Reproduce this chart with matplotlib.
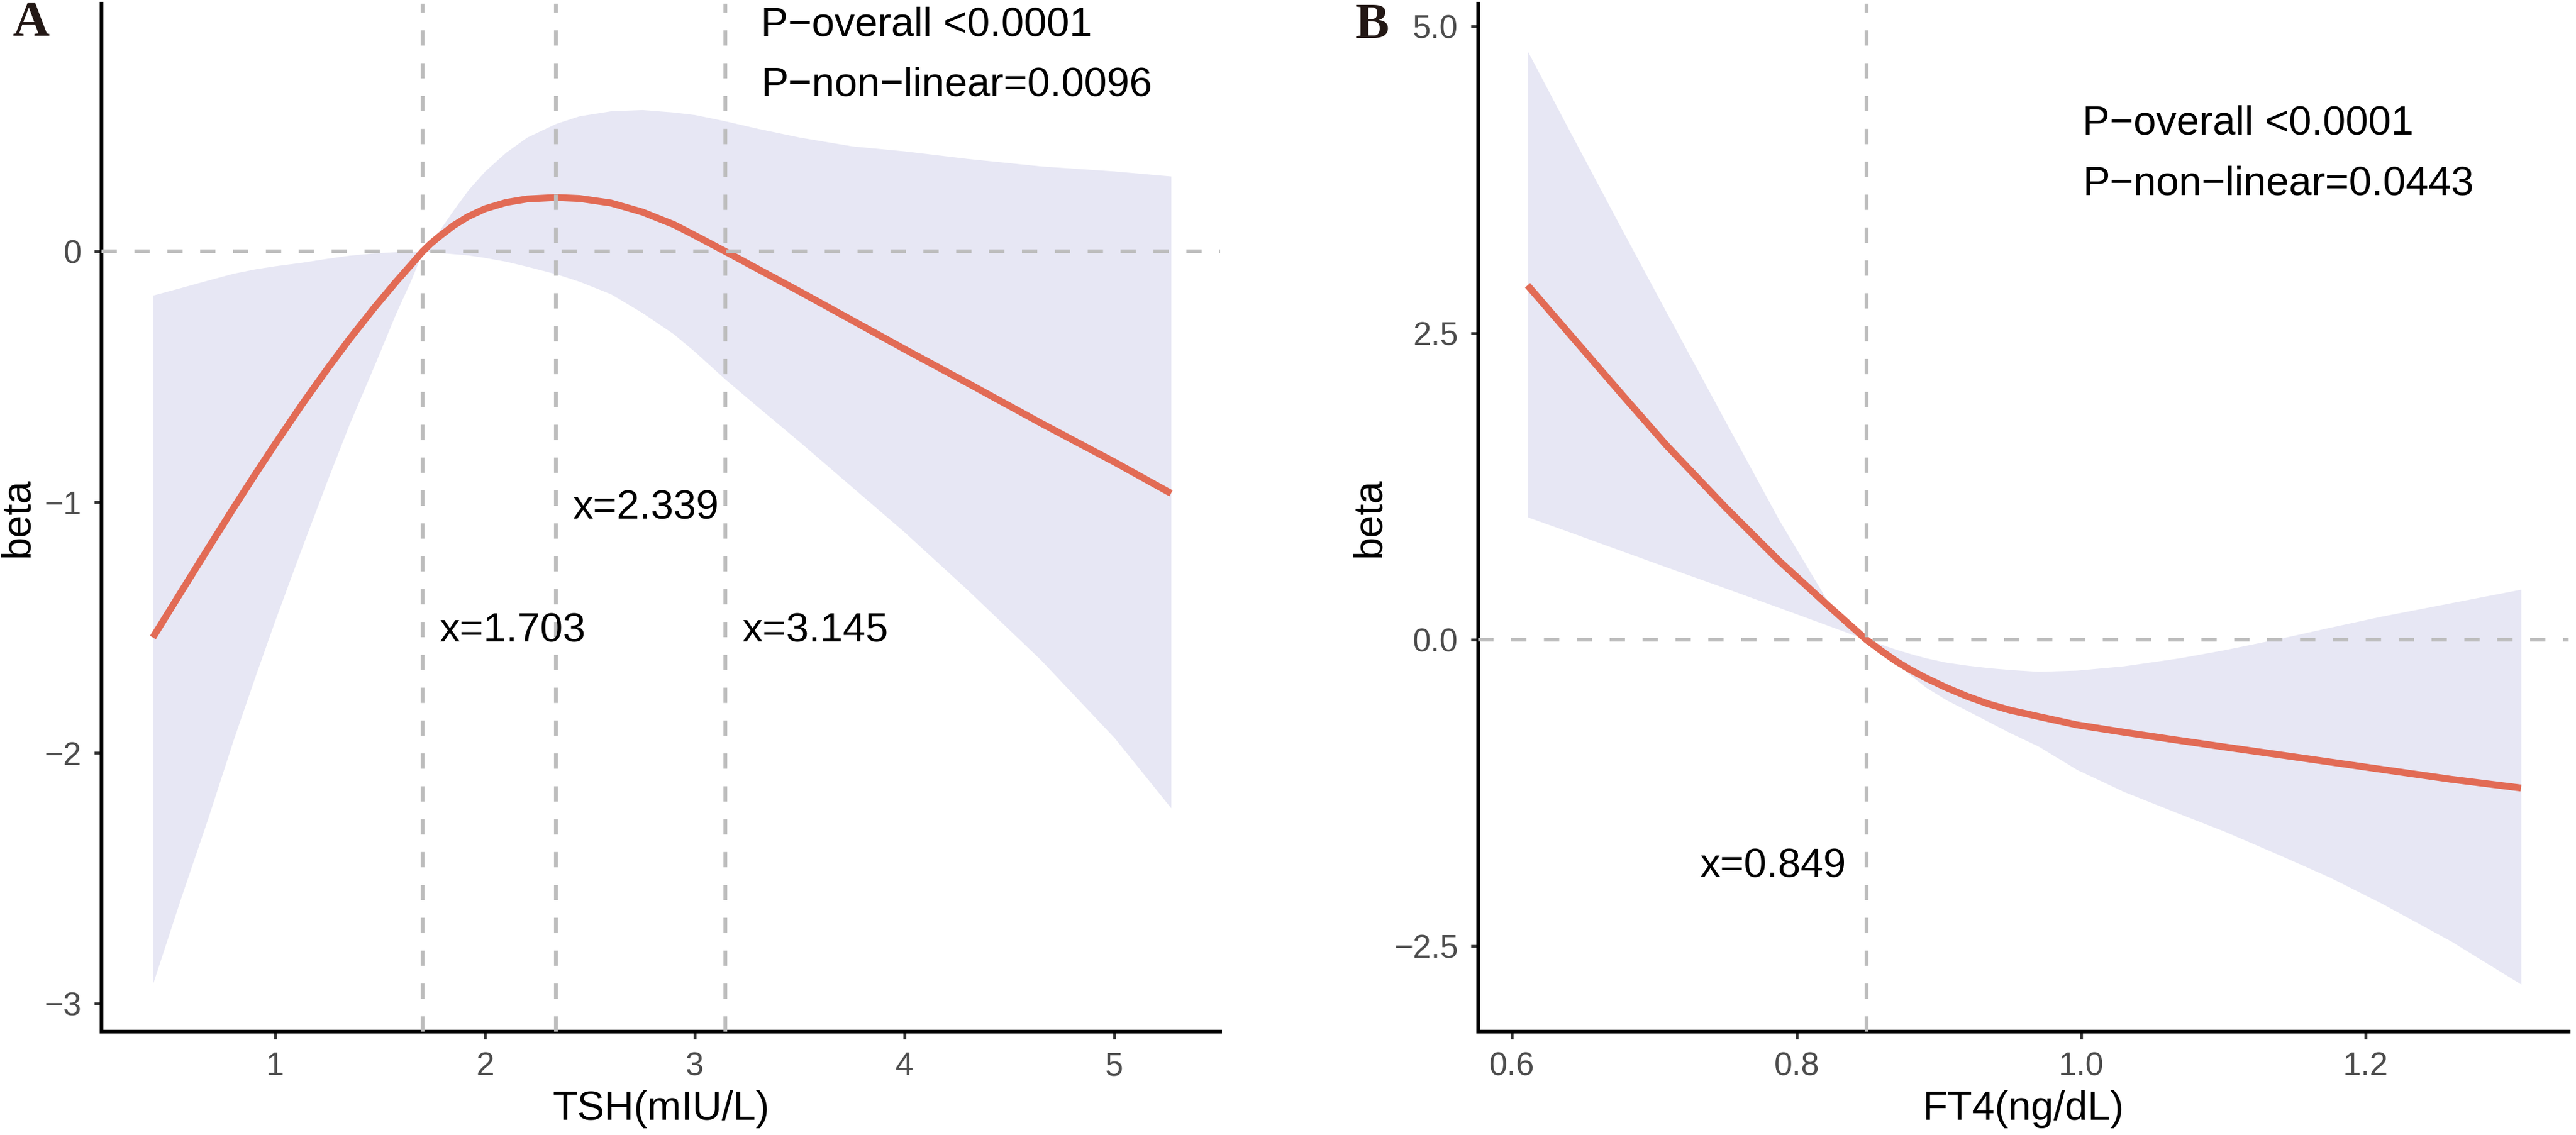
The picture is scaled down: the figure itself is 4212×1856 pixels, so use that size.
import matplotlib
matplotlib.use("Agg")
import matplotlib.pyplot as plt

# ---------------- Data: panel A (TSH) ----------------
tsh_x = [0.417, 0.55, 0.68, 0.8, 0.907, 1.0, 1.128, 1.25, 1.353, 1.47, 1.574, 1.65, 1.703,
         1.74, 1.78, 1.85, 1.92, 2.0, 2.1, 2.2, 2.339, 2.45, 2.6, 2.75, 2.9, 3.0, 3.145, 3.3,
         3.5, 3.75, 4.0, 4.3, 4.65, 5.0, 5.27]
tsh_beta = [-1.54, -1.36, -1.185, -1.025, -0.886, -0.768, -0.610, -0.467, -0.351, -0.227, -0.123, -0.051, 0.0,
            0.03, 0.058, 0.103, 0.139, 0.17, 0.195, 0.209, 0.215, 0.211, 0.193, 0.157, 0.107, 0.064, 0.0, -0.07,
            -0.16, -0.275, -0.39, -0.525, -0.685, -0.84, -0.965]
tsh_upper = [-0.175, -0.145, -0.115, -0.088, -0.07, -0.058, -0.044, -0.028, -0.016, -0.007, -0.002, 0.0, 0.0,
             0.035, 0.08, 0.165, 0.245, 0.32, 0.395, 0.455, 0.51, 0.54, 0.56, 0.565, 0.555, 0.545, 0.52, 0.49,
             0.455, 0.42, 0.40, 0.37, 0.34, 0.32, 0.30]
tsh_lower = [-2.92, -2.58, -2.26, -1.95, -1.69, -1.47, -1.18, -0.91, -0.69, -0.46, -0.25, -0.11, 0.0,
             -0.002, -0.005, -0.01, -0.015, -0.025, -0.04, -0.06, -0.09, -0.12, -0.17, -0.245, -0.33, -0.40, -0.51, -0.62,
             -0.76, -0.94, -1.12, -1.35, -1.63, -1.94, -2.22]
tsh_cuts = [1.703, 2.339, 3.145]
tsh_cut_labels = ["x=1.703", "x=2.339", "x=3.145"]
tsh_cut_label_y = [-1.556, -1.066, -1.556]
tsh_xticks = [1, 2, 3, 4, 5]
tsh_yticks = [-3, -2, -1, 0]
tsh_p_text = ["P\u2212overall <0.0001", "P\u2212non\u2212linear=0.0096"]

# ---------------- Data: panel B (FT4) ----------------
ft4_x = [0.611, 0.64, 0.678, 0.709, 0.75, 0.788, 0.821, 0.835, 0.849, 0.86, 0.87, 0.88, 0.891, 0.905,
         0.92, 0.935, 0.95, 0.97, 0.997, 1.03, 1.069, 1.10, 1.14, 1.175, 1.211, 1.26, 1.309]
ft4_beta = [2.89, 2.50, 1.99, 1.58, 1.08, 0.64, 0.29, 0.145, 0.0, -0.095, -0.176, -0.246, -0.313, -0.39,
            -0.463, -0.525, -0.575, -0.627, -0.695, -0.755, -0.822, -0.874, -0.94, -0.998, -1.058, -1.139, -1.21]
ft4_upper = [4.80, 4.16, 3.33, 2.66, 1.78, 0.97, 0.33, 0.15, 0.0, -0.04, -0.08, -0.115, -0.15, -0.185,
             -0.21, -0.23, -0.245, -0.26, -0.25, -0.215, -0.15, -0.085, 0.01, 0.10, 0.19, 0.30, 0.41]
ft4_lower = [1.00, 0.88, 0.72, 0.59, 0.42, 0.26, 0.12, 0.06, 0.0, -0.10, -0.19, -0.29, -0.39, -0.49,
             -0.58, -0.67, -0.76, -0.87, -1.06, -1.24, -1.42, -1.56, -1.76, -1.94, -2.15, -2.46, -2.81]
ft4_cuts = [0.849]
ft4_cut_labels = ["x=0.849"]
ft4_cut_label_y = [-1.94]
ft4_xticks = [0.6, 0.8, 1.0, 1.2]
ft4_yticks = [-2.5, 0.0, 2.5, 5.0]
ft4_p_text = ["P\u2212overall <0.0001", "P\u2212non\u2212linear=0.0443"]

# ---------------- Style ----------------
plt.rcParams['font.family'] = ['Liberation Sans', 'DejaVu Sans']
LINE_COLOR = "#E26B55"
BAND_COLOR = "#E7E7F4"
DASH_COLOR = "#BDBDBD"
TEXT_SIZE = 16
TICK_SIZE = 12.8
DASH = (0, (4.0, 4.6))
DASH_LW = 1.5

W, H = 4212, 1856
fig = plt.figure(figsize=(W / 300, H / 300), dpi=300)


def px_axes(left, right, top, bottom):
    return fig.add_axes([left / W, 1 - bottom / H, (right - left) / W, (bottom - top) / H])


def style(ax, xlim, ylim, xticks, yticks, xlabel, ylabel_x):
    ax.set_xlim(*xlim)
    ax.set_ylim(*ylim)
    ax.set_xticks(xticks)
    ax.set_yticks(yticks)
    for s in ["top", "right"]:
        ax.spines[s].set_visible(False)
    for s in ["left", "bottom"]:
        ax.spines[s].set_linewidth(1.45)
        ax.spines[s].set_color("black")
    ax.tick_params(axis="both", length=2.8, width=1.1, color="#333333",
                   labelsize=TICK_SIZE, labelcolor="#4D4D4D", pad=5)
    ax.set_xlabel(xlabel, fontsize=TEXT_SIZE, color="black", va="baseline")
    ax.xaxis.set_label_coords(0.5, -0.0857)
    ax.set_ylabel("beta", fontsize=TEXT_SIZE, color="black", va="center")
    ax.yaxis.set_label_coords(ylabel_x, 0.5)
    ax.set_facecolor("white")


def draw(ax, x, beta, lo, hi, cuts, cut_labels, cut_y, cut_ha, cut_dx, p_text, p_x, p_y):
    ax.fill_between(x, lo, hi, color=BAND_COLOR, linewidth=0, zorder=1)
    ax.plot(x, beta, color=LINE_COLOR, linewidth=2.7, solid_capstyle="butt",
            solid_joinstyle="round", zorder=2)
    ax.axhline(0, color=DASH_COLOR, linewidth=DASH_LW, linestyle=DASH, zorder=3)
    for c in cuts:
        ax.axvline(c, color=DASH_COLOR, linewidth=DASH_LW, linestyle=DASH, zorder=3)
    for c, lab, yy in zip(cuts, cut_labels, cut_y):
        ax.annotate(lab, xy=(c, yy), xytext=(cut_dx, 0), textcoords="offset points",
                    ha=cut_ha, va="baseline", fontsize=TEXT_SIZE, color="black", zorder=4)
    for t, yy in zip(p_text, p_y):
        ax.text(p_x, yy, t, ha="left", va="baseline", fontsize=TEXT_SIZE, color="black", zorder=4)


# Panel A
axA = px_axes(166, 1995, 6, 1687)
draw(axA, tsh_x, tsh_beta, tsh_lower, tsh_upper, tsh_cuts, tsh_cut_labels, tsh_cut_label_y,
     "left", 6.5, tsh_p_text, 3.315, [0.859, 0.62])
style(axA, (0.172, 5.504), (-3.112, 0.988), tsh_xticks, tsh_yticks, "TSH(mIU/L)", -0.0749)

# Panel B
axB = px_axes(2417, 4200, 6, 1687)
draw(axB, ft4_x, ft4_beta, ft4_lower, ft4_upper, ft4_cuts, ft4_cut_labels, ft4_cut_label_y,
     "right", -8, ft4_p_text, 1.001, [4.12, 3.63])
style(axB, (0.5763, 1.3425), (-3.197, 5.187), ft4_xticks, ft4_yticks, "FT4(ng/dL)", -0.0998)

# Panel letters
fig.text(50 / W, 1 - 38 / H, "A", ha="center", va="center", fontsize=20,
         family="Liberation Serif", fontweight="bold", color="#231815")
fig.text(2243 / W, 1 - 42 / H, "B", ha="center", va="center", fontsize=20,
         family="Liberation Serif", fontweight="bold", color="#231815")

fig.savefig("out.png", dpi=300, facecolor="white")
